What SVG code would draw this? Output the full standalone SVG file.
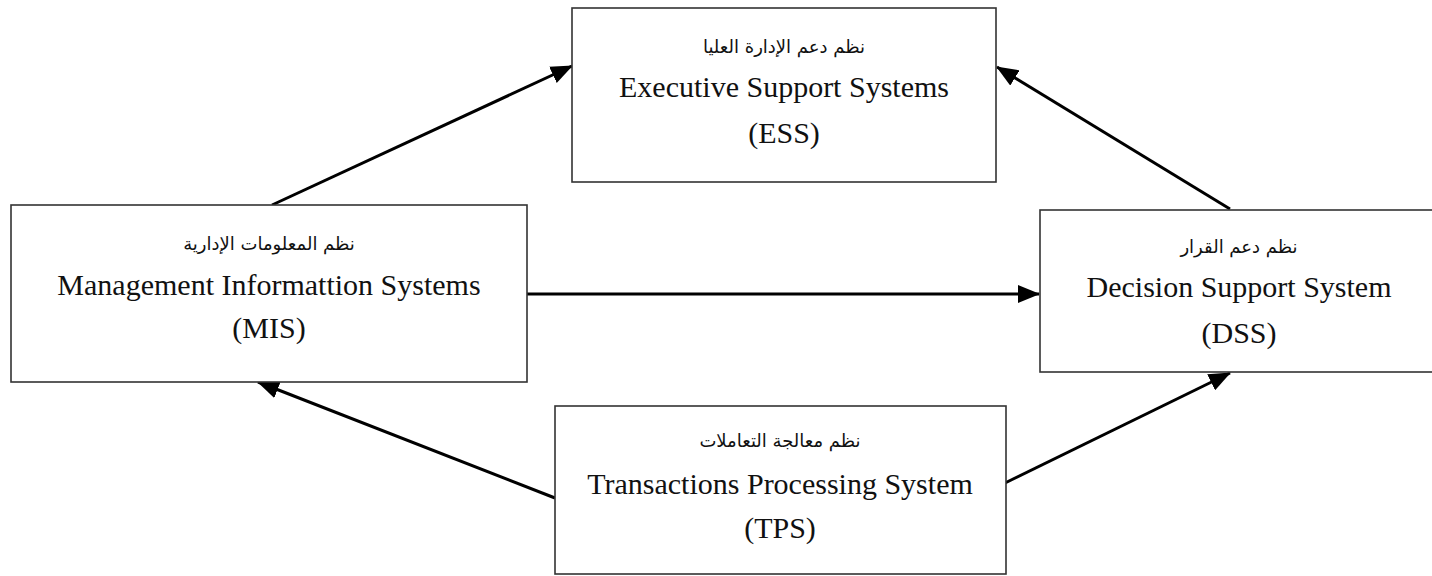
<svg xmlns="http://www.w3.org/2000/svg" width="1432" height="576" viewBox="0 0 1432 576">
  <defs>
    <marker id="arrow" markerUnits="userSpaceOnUse" markerWidth="22" markerHeight="18" viewBox="0 0 22 18" refX="21" refY="9" orient="auto">
      <path d="M0,0 L22,9 L0,18 Z" fill="#000"/>
    </marker>
    <style>
      .box { fill: #fff; stroke: #333; stroke-width: 1.6; }
      .ar { font-family: "DejaVu Sans", "Noto Sans", sans-serif; font-size: 18px; fill: #111; text-anchor: middle; }
      .en { font-family: "Liberation Serif", "DejaVu Serif", serif; font-size: 30px; fill: #111; text-anchor: middle; }
      .link { stroke: #000; stroke-width: 3; fill: none; marker-end: url(#arrow); }
    </style>
  </defs>
  <rect width="1432" height="576" fill="#fff"/>

  <g id="links">
    <line class="link" x1="272" y1="205" x2="572" y2="66"/>
    <line class="link" x1="1230" y1="209" x2="997" y2="67"/>
    <line class="link" x1="527" y1="294" x2="1039" y2="294"/>
    <line class="link" x1="555" y1="498" x2="258" y2="382"/>
    <line class="link" x1="1005" y1="483" x2="1230" y2="373"/>
  </g>

  <g id="ess">
    <rect class="box" x="572" y="8" width="424" height="174"/>
    <text class="ar" x="784" y="53" direction="rtl">نظم دعم الإدارة العليا</text>
    <text class="en" x="784" y="97">Executive Support Systems</text>
    <text class="en" x="784" y="143">(ESS)</text>
  </g>

  <g id="mis">
    <rect class="box" x="11" y="205" width="516" height="177"/>
    <text class="ar" x="269" y="250" direction="rtl">نظم المعلومات الإدارية</text>
    <text class="en" x="269" y="295">Management Informattion Systems</text>
    <text class="en" x="269" y="338">(MIS)</text>
  </g>

  <g id="dss">
    <rect class="box" x="1040" y="210" width="400" height="162"/>
    <text class="ar" x="1239" y="253" direction="rtl">نظم دعم القرار</text>
    <text class="en" x="1239" y="297">Decision Support System</text>
    <text class="en" x="1239" y="343">(DSS)</text>
  </g>

  <g id="tps">
    <rect class="box" x="555" y="406" width="451" height="168"/>
    <text class="ar" x="780" y="447" direction="rtl">نظم معالجة التعاملات</text>
    <text class="en" x="780" y="494">Transactions Processing System</text>
    <text class="en" x="780" y="538">(TPS)</text>
  </g>
</svg>
